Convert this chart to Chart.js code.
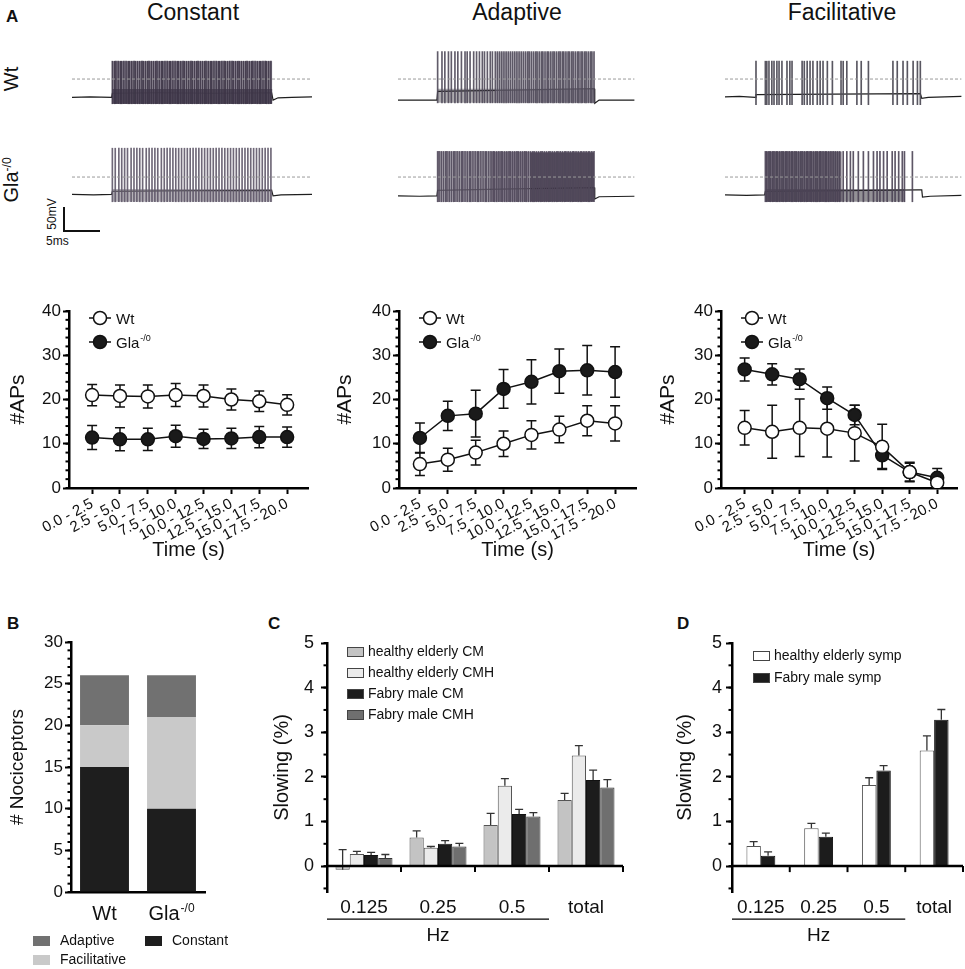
<!DOCTYPE html>
<html>
<head>
<meta charset="utf-8">
<script src="https://cdn.jsdelivr.net/npm/chart.js@4.4.1/dist/chart.umd.min.js"></script>
<style>
  body { margin: 0; width: 965px; height: 969px; position: relative; background: #fff; overflow: hidden;
         font-family: "Liberation Sans", Arial, sans-serif; color: #111; }
  canvas { position: absolute; }
  .t { position: absolute; line-height: 1; white-space: nowrap; }
  .ctr { transform: translateX(-50%); }
  .rot { transform: translate(-50%, -50%) rotate(-90deg); }
  .pl { font-weight: bold; font-size: 17px; }
  sup { font-size: 60%; }
  .bar { position: absolute; background: #111; }
</style>
</head>
<body>

<div class="t pl" style="left:6px;top:8px;">A</div>
<div class="t ctr" style="left:193px;top:1px;font-size:23px;">Constant</div>
<div class="t ctr" style="left:517px;top:1px;font-size:23px;">Adaptive</div>
<div class="t ctr" style="left:842px;top:1px;font-size:23px;">Facilitative</div>
<div class="t rot" style="left:11px;top:79px;font-size:20px;">Wt</div>
<div class="t rot" style="left:11px;top:180px;font-size:20px;">Gla<sup>-/0</sup></div>

<canvas id="tr1" width="240" height="65" style="left:72px;top:47px;"></canvas>
<canvas id="tr2" width="240" height="65" style="left:72px;top:145px;"></canvas>
<canvas id="tr3" width="240" height="65" style="left:398px;top:47px;"></canvas>
<canvas id="tr4" width="240" height="65" style="left:398px;top:145px;"></canvas>
<canvas id="tr5" width="240" height="65" style="left:725px;top:47px;"></canvas>
<canvas id="tr6" width="240" height="65" style="left:725px;top:145px;"></canvas>

<div class="bar" style="left:63px;top:207px;width:2px;height:25px;"></div>
<div class="bar" style="left:63px;top:230px;width:37px;height:2px;"></div>
<div class="t rot" style="left:52px;top:214px;font-size:12px;">50mV</div>
<div class="t" style="left:46px;top:235px;font-size:12px;">5ms</div>

<canvas id="aps1" width="320" height="272" style="left:0px;top:290px;"></canvas>
<canvas id="aps2" width="320" height="272" style="left:330px;top:290px;"></canvas>
<canvas id="aps3" width="315" height="272" style="left:650px;top:290px;"></canvas>

<div class="t pl" style="left:7px;top:615px;">B</div>
<div class="t pl" style="left:268px;top:615px;">C</div>
<div class="t pl" style="left:677px;top:615px;">D</div>

<canvas id="chartB" width="240" height="369" style="left:0px;top:600px;"></canvas>
<canvas id="chartC" width="380" height="369" style="left:250px;top:600px;"></canvas>
<canvas id="chartD" width="325" height="369" style="left:640px;top:600px;"></canvas>

<script>
// ---------- data: panel A traces (time in ms, voltage in mV relative to dashed line) ----------
const constWtSpikes = [5.6, 5.9, 6.1, 6.4, 6.7, 6.9, 7.2, 7.5, 7.8, 8.0, 8.3, 8.6, 8.8, 9.1, 9.4, 9.7, 9.9, 10.2, 10.5, 10.7,
  11.0, 11.3, 11.6, 11.8, 12.1, 12.4, 12.6, 12.9, 13.2, 13.5, 13.7, 14.0, 14.3, 14.6, 14.8, 15.1, 15.4, 15.6, 15.9, 16.2,
  16.5, 16.7, 17.0, 17.3, 17.5, 17.8, 18.1, 18.4, 18.6, 18.9, 19.2, 19.4, 19.7, 20.0, 20.3, 20.5, 20.8, 21.1, 21.3, 21.6,
  21.9, 22.2, 22.4, 22.7, 23.0, 23.2, 23.5, 23.8, 24.1, 24.3, 24.6, 24.9, 25.1, 25.4, 25.7, 26.0, 26.2, 26.5, 26.8, 27.0, 27.3, 27.6];
const constWtBaseX = [0, 2.5, 5.5, 5.6, 12, 20, 27.7, 27.9, 28.6, 30.5, 33.3];
const constWtBaseY = [-40, -39, -40, -31, -30, -31, -30, -46, -41, -40, -39];
const constWtRange = [-54, 39];

const constGlaSpikes = [5.6, 6.0, 6.5, 6.9, 7.3, 7.7, 8.2, 8.6, 9.0, 9.4, 9.8, 10.3, 10.7, 11.1, 11.5, 11.9, 12.4, 12.8,
  13.2, 13.6, 14.0, 14.4, 14.8, 15.2, 15.6, 16.0, 16.4, 16.8, 17.2, 17.6, 18.0, 18.4, 18.8, 19.2, 19.6, 20.0, 20.4, 20.8,
  21.2, 21.6, 22.0, 22.4, 22.8, 23.2, 23.6, 24.0, 24.4, 24.8, 25.2, 25.6, 26.0, 26.4, 26.8, 27.2, 27.6];
const constGlaBaseX = [0, 3, 5.5, 5.6, 16, 27.7, 27.9, 29, 33.3];
const constGlaBaseY = [-38, -39, -38, -31, -30, -29, -41, -39, -38];
const constGlaRange = [-54, 63];

const adaptWtSpikes = [5.5, 6.1, 6.5, 7.0, 7.4, 7.9, 8.3, 8.8, 9.3, 9.6, 10.0, 10.5, 10.9, 11.3, 11.7, 12.0, 12.4, 12.8,
  13.1, 13.5, 13.8, 14.1, 14.4, 14.7, 15.0, 15.3, 15.6, 15.9, 16.2, 16.5, 16.8, 17.1, 17.4, 17.7, 18.0, 18.2, 18.5, 18.8,
  19.1, 19.3, 19.6, 19.9, 20.1, 20.4, 20.7, 20.9, 21.2, 21.5, 21.7, 22.0, 22.3, 22.5, 22.8, 23.0, 23.3, 23.6, 23.8, 24.1,
  24.3, 24.6, 24.9, 25.1, 25.4, 25.6, 25.9, 26.1, 26.4, 26.7, 26.9, 27.2];
const adaptWtBaseX = [0, 3, 5.4, 5.5, 16, 27.2, 27.3, 27.9, 32.8];
const adaptWtBaseY = [-46, -46, -46, -27, -24, -21, -53, -46, -46];
const adaptWtRange = [-52, 60];

const adaptGlaSpikes = [5.5, 5.7, 6.0, 6.3, 6.6, 6.8, 7.1, 7.4, 7.7, 7.9, 8.2, 8.5, 8.8, 9.0, 9.3, 9.6, 9.9, 10.1, 10.4,
  10.7, 11.0, 11.2, 11.5, 11.8, 12.1, 12.3, 12.6, 12.9, 13.2, 13.4, 13.7, 14.0, 14.3, 14.5, 14.8, 15.1, 15.4, 15.6, 15.9,
  16.2, 16.5, 16.7, 17.0, 17.3, 17.6, 17.8, 18.1, 18.4, 18.7, 18.9, 19.2, 19.5, 19.8, 20.0, 20.3, 20.6, 20.9, 21.1, 21.4,
  21.7, 22.0, 22.2, 22.5, 22.8, 23.1, 23.3, 23.6, 23.9, 24.2, 24.4, 24.7, 25.0, 25.3, 25.5, 25.8, 26.1, 26.4, 26.6, 26.9, 27.2];
const adaptGlaBaseX = [0, 3, 5.4, 5.5, 16, 27.2, 27.3, 27.9, 32.8];
const adaptGlaBaseY = [-41, -42, -41, -29, -26, -23, -48, -43, -42];
const adaptGlaRange = [-54, 56];

const facilWtSpikes = [4.3, 5.6, 5.8, 6.1, 6.5, 6.8, 7.2, 7.5, 7.9, 8.6, 9.0, 9.3, 10.7, 11.0, 11.4, 11.8, 12.2, 12.8,
  13.2, 13.6, 14.2, 14.9, 16.1, 16.4, 16.9, 18.3, 18.9, 19.9, 23.3, 23.9, 24.7, 25.3, 26.1, 26.7, 27.1];
const facilWtBaseX = [0, 2, 4.2, 4.3, 15, 27.1, 27.3, 28.2, 30.5, 32.8];
const facilWtBaseY = [-39, -38, -40, -34, -33, -32, -42, -40, -39, -38];
const facilWtRange = [-56, 39];

const facilGlaSpikes = [5.6, 5.8, 6.1, 6.3, 6.6, 6.8, 7.1, 7.3, 7.6, 7.9, 8.1, 8.4, 8.6, 8.9, 9.2, 9.4, 9.7, 9.9, 10.2,
  10.5, 10.7, 11.0, 11.3, 11.5, 11.8, 12.0, 12.3, 12.6, 12.8, 13.1, 13.3, 13.6, 13.9, 14.1, 14.4, 14.7, 15.0, 15.3, 15.6,
  15.9, 16.4, 16.9, 17.4, 17.8, 18.5, 19.2, 19.9, 20.6, 21.1, 21.5, 22.0, 22.5, 23.2, 23.6, 24.1, 24.6, 24.9, 26.0];
const facilGlaBaseX = [0, 3, 5.5, 5.6, 16, 26.8, 27.3, 27.4, 28.5, 32.8];
const facilGlaBaseY = [-39, -40, -39, -31, -30, -28, -28, -44, -42, -40];
const facilGlaRange = [-54, 56];

// ---------- data: panel A #APs ----------
const timeBins = ["0.0 - 2.5", "2.5 - 5.0", "5.0 - 7.5", "7.5 - 10.0", "10.0 - 12.5", "12.5 - 15.0", "15.0 - 17.5", "17.5 - 20.0"];
const constWt = [21.0, 20.8, 20.7, 21.0, 20.8, 20.0, 19.6, 18.8];
const constWtErr = [2.4, 2.5, 2.6, 2.6, 2.5, 2.4, 2.3, 2.3];
const constGla = [11.4, 11.0, 11.0, 11.7, 11.1, 11.2, 11.5, 11.5];
const constGlaErr = [2.7, 2.6, 2.5, 2.5, 2.2, 2.3, 2.4, 2.3];
const adaptWt = [5.4, 6.4, 8.0, 10.0, 12.0, 13.2, 15.2, 14.6];
const adaptWtErr = [2.6, 2.6, 2.8, 2.9, 3.2, 3.0, 3.4, 4.0];
const adaptGla = [11.3, 16.3, 16.8, 22.4, 24.0, 26.4, 26.6, 26.2];
const adaptGlaErr = [3.4, 3.3, 5.3, 4.4, 5.0, 5.0, 5.6, 5.7];
const facilWt = [13.6, 12.7, 13.6, 13.4, 12.4, 9.3, 3.6, 1.2];
const facilWtErr = [3.9, 6.0, 6.5, 6.4, 6.3, 5.1, 2.0, 1.0];
const facilGla = [26.8, 25.7, 24.6, 20.3, 16.5, 7.4, 3.6, 2.3];
const facilGlaErr = [2.6, 2.4, 2.3, 2.5, 2.2, 3.0, 2.2, 2.1];

// ---------- data: panel B ----------
const bGroups = ["Wt", "Gla"];
const bGroupSup = ["", "-/0"];
const bConstant = [15, 10];
const bFacilitative = [5, 11];
const bAdaptive = [6, 5];
const bLegendOrder = ["Adaptive", "Constant", "Facilitative"];

// ---------- data: panels C and D ----------
const hzCats = ["0.125", "0.25", "0.5", "total"];
const cHeCm = [-0.08, 0.64, 0.92, 1.48];
const cHeCmErr = [0.45, 0.15, 0.26, 0.15];
const cHeCmh = [0.27, 0.41, 1.80, 2.48];
const cHeCmhErr = [0.06, 0.03, 0.16, 0.22];
const cFmCm = [0.25, 0.50, 1.17, 1.93];
const cFmCmErr = [0.06, 0.07, 0.10, 0.22];
const cFmCmh = [0.18, 0.44, 1.11, 1.76];
const cFmCmhErr = [0.08, 0.07, 0.09, 0.18];
const dHe = [0.45, 0.85, 1.82, 2.59];
const dHeErr = [0.10, 0.11, 0.16, 0.33];
const dFm = [0.23, 0.66, 2.14, 3.28];
const dFmErr = [0.09, 0.08, 0.11, 0.23];

// ---------- helpers ----------
const FONT = '"Liberation Sans", Arial, sans-serif';
Chart.defaults.font.family = FONT;
Chart.defaults.color = '#111';

function supText(ctx, base, sup, x, y, size, align) {
  ctx.save();
  ctx.textBaseline = 'alphabetic';
  ctx.textAlign = 'left';
  ctx.font = size + 'px ' + FONT;
  const w1 = ctx.measureText(base).width;
  const small = Math.round(size * 0.6);
  ctx.font = small + 'px ' + FONT;
  const w2 = sup ? ctx.measureText(sup).width + 1 : 0;
  const x0 = align === 'center' ? x - (w1 + w2) / 2 : x;
  ctx.font = size + 'px ' + FONT;
  ctx.fillText(base, x0, y);
  if (sup) {
    ctx.font = small + 'px ' + FONT;
    ctx.fillText(sup, x0 + w1 + 1, y - size * 0.42);
  }
  ctx.restore();
}

// small ticks between the labelled ones
const minorTicks = {
  id: 'minorTicks',
  afterDraw(chart, args, o) {
    if (!o.step) return;
    const s = chart.scales.y, ctx = chart.ctx;
    ctx.save();
    ctx.strokeStyle = '#000';
    ctx.lineWidth = 2;
    for (let v = o.from; v <= s.max + 1e-9; v += o.step) {
      const py = s.getPixelForValue(v);
      ctx.beginPath();
      ctx.moveTo(s.right, py);
      ctx.lineTo(s.right - o.len, py);
      ctx.stroke();
    }
    ctx.restore();
  }
};

function drawErrors(chart, o) {
  const ctx = chart.ctx, ys = chart.scales.y;
  chart.data.datasets.forEach((ds, di) => {
    if (!ds.errors) return;
    const meta = chart.getDatasetMeta(di);
    ctx.save();
    ctx.strokeStyle = o.color;
    ctx.lineWidth = o.width;
    meta.data.forEach((el, i) => {
      const m = ds.means[i], e = ds.errors[i];
      const top = ys.getPixelForValue(m + e);
      const bot = o.upOnly ? ys.getPixelForValue(m) : ys.getPixelForValue(m - e);
      ctx.beginPath();
      ctx.moveTo(el.x, bot); ctx.lineTo(el.x, top);
      ctx.moveTo(el.x - o.cap, top); ctx.lineTo(el.x + o.cap, top);
      if (!o.upOnly) { ctx.moveTo(el.x - o.cap, bot); ctx.lineTo(el.x + o.cap, bot); }
      ctx.stroke();
    });
    ctx.restore();
  });
}
const errorBars = {
  id: 'errorBars',
  beforeDatasetsDraw(chart, a, o) { if (o.under) drawErrors(chart, o); },
  afterDatasetsDraw(chart, a, o) { if (!o.under) drawErrors(chart, o); }
};

const apsLegend = {
  id: 'apsLegend',
  afterDraw(chart) {
    const ctx = chart.ctx, a = chart.chartArea;
    const cx = a.left + 31;
    chart.data.datasets.forEach((ds, i) => {
      const y = a.top + 7 + i * 24;
      ctx.save();
      ctx.strokeStyle = '#111';
      ctx.lineWidth = 1.5;
      ctx.beginPath(); ctx.moveTo(cx - 11, y); ctx.lineTo(cx + 11, y); ctx.stroke();
      ctx.beginPath(); ctx.arc(cx, y, 6.5, 0, Math.PI * 2);
      ctx.fillStyle = ds.pointBackgroundColor; ctx.fill(); ctx.stroke();
      ctx.fillStyle = '#111';
      supText(ctx, ds.label, ds.sup, cx + 16, y + 5.5, 15, 'left');
      ctx.restore();
    });
  }
};

function traceChart(id, t) {
  const ds = [];
  (t.bands || []).forEach(b => {
    ds.push({ data: [{ x: b[0], y: b[2] }, { x: b[1], y: b[2] }], borderWidth: 0, pointRadius: 0, fill: false, order: 4 });
    ds.push({ data: [{ x: b[0], y: b[3] }, { x: b[1], y: b[3] }], borderWidth: 0, pointRadius: 0, fill: '-1', backgroundColor: b[4], order: 4 });
  });
  ds.push({ type: 'bar', data: t.spikes.map(s => ({ x: s, y: t.range })), backgroundColor: t.color, barThickness: 1, grouped: false, order: 3 });
  ds.push({ data: t.bx.map((x, i) => ({ x: x, y: t.by[i] })), borderColor: '#1e1e1e', borderWidth: 1.2, pointRadius: 0, order: 5 });
  ds.push({ data: [{ x: 0, y: 0 }, { x: t.bx[t.bx.length - 1], y: 0 }], borderColor: '#9a9a9a', borderWidth: 1, borderDash: [3, 2], pointRadius: 0, order: 1 });
  new Chart(document.getElementById(id), {
    type: 'line',
    data: { datasets: ds },
    options: {
      responsive: false, animation: false, events: [],
      layout: { padding: 0 },
      plugins: { legend: { display: false }, tooltip: { enabled: false } },
      scales: {
        x: { type: 'linear', min: 0, max: 33.3, display: false, offset: false },
        y: { min: -72, max: 70, display: false }
      }
    }
  });
}

function apsChart(id, wt, wtErr, gla, glaErr, lay) {
  new Chart(document.getElementById(id), {
    type: 'line',
    data: {
      datasets: [
        { label: 'Wt', sup: '', data: wt.map((v, i) => ({ x: i, y: v })), means: wt, errors: wtErr,
          borderColor: '#111', borderWidth: 1.5, pointRadius: 6.5, pointBackgroundColor: '#fff',
          pointBorderColor: '#111', pointBorderWidth: 1.5 },
        { label: 'Gla', sup: '-/0', data: gla.map((v, i) => ({ x: i, y: v })), means: gla, errors: glaErr,
          borderColor: '#111', borderWidth: 1.5, pointRadius: 6.5, pointBackgroundColor: '#1a1a1a',
          pointBorderColor: '#111', pointBorderWidth: 1.5 }
      ]
    },
    options: {
      responsive: false, animation: false, events: [],
      layout: { padding: { left: lay.padLeft, top: 21, right: lay.padRight, bottom: 0 } },
      plugins: {
        legend: { display: false }, tooltip: { enabled: false },
        minorTicks: { from: 0, step: 2, len: 3.5 },
        errorBars: { under: true, upOnly: false, color: '#111', width: 1.5, cap: 5 }
      },
      scales: {
        x: {
          type: 'linear', min: lay.xmin, max: lay.xmax, offset: false,
          afterBuildTicks: s => { s.ticks = timeBins.map((_, i) => ({ value: i })); },
          afterFit: s => { s.height = 74; },
          ticks: { callback: v => timeBins[v], minRotation: 28, maxRotation: 28, autoSkip: false,
                   font: { size: 15 }, color: '#111', padding: 1 },
          grid: { drawOnChartArea: false, tickLength: 6, tickWidth: 2, color: '#000' },
          border: { width: 2.5, color: '#000' },
          title: { display: true, text: 'Time (s)', font: { size: 20 }, color: '#111', padding: { top: 0, bottom: 0 } }
        },
        y: {
          min: 0, max: 40,
          afterBuildTicks: s => { s.ticks = [0, 10, 20, 30, 40].map(v => ({ value: v })); },
          afterFit: s => { s.width = lay.yWidth; },
          ticks: { font: { size: 17 }, color: '#111', padding: 2 },
          grid: { drawOnChartArea: false, tickLength: 6, tickWidth: 2, color: '#000' },
          border: { width: 2.5, color: '#000' },
          title: { display: true, text: '#APs', font: { size: 21 }, color: '#111', padding: { top: 0, bottom: 0 } }
        }
      }
    },
    plugins: [minorTicks, errorBars, apsLegend]
  });
}

// ---------- panel A traces ----------
traceChart('tr1', { spikes: constWtSpikes, bx: constWtBaseX, by: constWtBaseY, range: constWtRange, color: 'rgba(60,52,70,0.9)',
  bands: [[5.6, 27.8, -54, 39, 'rgba(110,100,120,0.55)'], [5.6, 27.8, -54, -22, 'rgba(35,28,42,0.8)']] });
traceChart('tr2', { spikes: constGlaSpikes, bx: constGlaBaseX, by: constGlaBaseY, range: constGlaRange, color: 'rgba(95,88,105,0.9)',
  bands: [[5.6, 27.8, -54, -26, 'rgba(90,84,98,0.45)']] });
traceChart('tr3', { spikes: adaptWtSpikes, bx: adaptWtBaseX, by: adaptWtBaseY, range: adaptWtRange, color: 'rgba(80,74,90,0.9)',
  bands: [[13.5, 27.2, -50, 58, 'rgba(165,160,172,0.45)'], [5.5, 27.2, -52, -21, 'rgba(50,45,55,0.4)']] });
traceChart('tr4', { spikes: adaptGlaSpikes, bx: adaptGlaBaseX, by: adaptGlaBaseY, range: adaptGlaRange, color: 'rgba(80,72,90,0.9)',
  bands: [[5.5, 12.8, -54, 56, 'rgba(160,155,168,0.55)'], [12.8, 18.3, -54, 55, 'rgba(105,96,115,0.7)'],
          [18.3, 27.2, -54, 54, 'rgba(55,45,65,0.85)']] });
traceChart('tr5', { spikes: facilWtSpikes, bx: facilWtBaseX, by: facilWtBaseY, range: facilWtRange, color: 'rgba(80,78,88,0.95)' });
traceChart('tr6', { spikes: facilGlaSpikes, bx: facilGlaBaseX, by: facilGlaBaseY, range: facilGlaRange, color: 'rgba(75,68,85,0.9)',
  bands: [[5.6, 16.2, -54, 56, 'rgba(70,60,80,0.7)'], [5.6, 25.0, -54, -26, 'rgba(40,35,45,0.5)']] });

// ---------- panel A #APs ----------
apsChart('aps1', constWt, constWtErr, constGla, constGlaErr, { padLeft: 5.4, yWidth: 63.6, padRight: 12, xmin: -0.83, xmax: 7.75 });
apsChart('aps2', adaptWt, adaptWtErr, adaptGla, adaptGlaErr, { padLeft: 2.4, yWidth: 66.6, padRight: 14, xmin: -0.75, xmax: 7.75 });
apsChart('aps3', facilWt, facilWtErr, facilGla, facilGlaErr, { padLeft: 5.4, yWidth: 65.6, padRight: 5, xmin: -0.86, xmax: 7.72 });

// ---------- panel B ----------
const bExtras = {
  id: 'bExtras',
  afterDraw(chart) {
    const { ctx, scales: { x }, chartArea: a } = chart;
    ctx.save();
    ctx.fillStyle = '#111';
    bGroups.forEach((g, i) => supText(ctx, g, bGroupSup[i], x.getPixelForValue(i), a.bottom + 28, 20, 'center'));
    bLegendOrder.forEach((name, k) => {
      const ds = chart.data.datasets.find(d => d.label === name);
      const bx = 33 + (k % 2) * 112;
      const by = 341 + Math.floor(k / 2) * 19;
      ctx.fillStyle = ds.backgroundColor;
      ctx.fillRect(bx, by - 5, 17, 10);
      ctx.fillStyle = '#111';
      ctx.font = '14px ' + FONT;
      ctx.textAlign = 'left';
      ctx.textBaseline = 'middle';
      ctx.fillText(name, bx + 27, by);
    });
    ctx.restore();
  }
};
new Chart(document.getElementById('chartB'), {
  type: 'bar',
  data: {
    labels: bGroups,
    datasets: [
      { label: 'Constant', data: bConstant, backgroundColor: '#1e1e1e' },
      { label: 'Facilitative', data: bFacilitative, backgroundColor: '#c9c9c9' },
      { label: 'Adaptive', data: bAdaptive, backgroundColor: '#717171' }
    ]
  },
  options: {
    responsive: false, animation: false, events: [],
    layout: { padding: { left: 6.6, top: 42, right: 35, bottom: 0 } },
    datasets: { bar: { barPercentage: 1, categoryPercentage: 0.73 } },
    plugins: { legend: { display: false }, tooltip: { enabled: false }, minorTicks: { from: 0, step: 1, len: 3.5 } },
    scales: {
      x: { stacked: true, afterFit: s => { s.height = 77; }, ticks: { display: false },
           grid: { display: false }, border: { width: 2.5, color: '#000' } },
      y: { stacked: true, min: 0, max: 30,
           afterBuildTicks: s => { s.ticks = [0, 5, 10, 15, 20, 25, 30].map(v => ({ value: v })); },
           afterFit: s => { s.width = 64.4; },
           ticks: { font: { size: 17 }, color: '#111', padding: 2 },
           grid: { drawOnChartArea: false, tickLength: 6, tickWidth: 2, color: '#000' },
           border: { width: 2.5, color: '#000' },
           title: { display: true, text: '# Nociceptors', font: { size: 19 }, color: '#111', padding: { top: 0, bottom: 0 } } }
    }
  },
  plugins: [minorTicks, bExtras]
});

// ---------- panels C and D ----------
const hzAxis = {
  id: 'hzAxis',
  afterDraw(chart, args, o) {
    const { ctx, chartArea: a, scales: { x, y } } = chart;
    const y0 = y.getPixelForValue(0);
    const n = chart.data.labels.length;
    const edges = [];
    for (let i = 1; i <= n; i++) edges.push(i < n ? (x.getPixelForValue(i - 1) + x.getPixelForValue(i)) / 2 : a.right);
    ctx.save();
    ctx.strokeStyle = '#000';
    ctx.lineWidth = 2.5;
    ctx.beginPath(); ctx.moveTo(a.left, y0); ctx.lineTo(a.right, y0); ctx.stroke();
    ctx.lineWidth = 2;
    edges.forEach(e => { ctx.beginPath(); ctx.moveTo(e, y0); ctx.lineTo(e, y0 + 6); ctx.stroke(); });
    const end = edges[o.split - 1];
    const ly = y0 + 53;
    ctx.lineWidth = 1.2;
    ctx.beginPath(); ctx.moveTo(a.left, ly); ctx.lineTo(end, ly); ctx.stroke();
    ctx.fillStyle = '#111';
    ctx.font = '19px ' + FONT;
    ctx.textAlign = 'center';
    ctx.textBaseline = 'middle';
    ctx.fillText(o.unit, (a.left + end) / 2, ly + 17);
    // legend
    ctx.font = '14px ' + FONT;
    ctx.textAlign = 'left';
    chart.data.datasets.forEach((ds, i) => {
      const ry = a.top + o.legTop + i * o.legStep;
      const bx = a.left + o.legLeft;
      ctx.fillStyle = ds.backgroundColor;
      ctx.fillRect(bx, ry - 4.5, 16, 9);
      ctx.strokeStyle = '#444';
      ctx.lineWidth = 1;
      ctx.strokeRect(bx + 0.5, ry - 4.5, 16, 9);
      ctx.fillStyle = '#111';
      ctx.fillText(ds.label, bx + 21, ry);
    });
    ctx.restore();
  }
};

function slowingChart(id, datasets, lay) {
  new Chart(document.getElementById(id), {
    type: 'bar',
    data: { labels: hzCats, datasets: datasets },
    options: {
      responsive: false, animation: false, events: [],
      layout: { padding: { left: lay.padLeft, top: 43, right: lay.padRight, bottom: 0 } },
      datasets: { bar: { barPercentage: 1, categoryPercentage: lay.catPct, borderWidth: 1 } },
      plugins: {
        legend: { display: false }, tooltip: { enabled: false },
        minorTicks: { from: -0.5, step: 0.5, len: 3.5 },
        errorBars: { under: false, upOnly: true, color: '#333', width: 1.3, cap: 4 },
        hzAxis: { split: 3, unit: 'Hz', legTop: lay.legTop, legStep: lay.legStep, legLeft: lay.legLeft }
      },
      scales: {
        x: { afterFit: s => { s.height = 77; }, ticks: { font: { size: 19 }, color: '#111', padding: 4 },
             grid: { display: false, drawTicks: false }, border: { display: false } },
        y: { min: -0.58, max: 5,
             afterBuildTicks: s => { s.ticks = [0, 1, 2, 3, 4, 5].map(v => ({ value: v })); },
             afterFit: s => { s.width = lay.yWidth; },
             ticks: { font: { size: 18 }, color: '#111', padding: lay.tickPad },
             grid: { drawOnChartArea: false, tickLength: 6, tickWidth: 2, color: '#000' },
             border: { width: 2.5, color: '#000' },
             title: { display: true, text: 'Slowing (%)', font: { size: 20 }, color: '#111', padding: { top: 0, bottom: 0 } } }
      }
    },
    plugins: [minorTicks, errorBars, hzAxis]
  });
}

slowingChart('chartC', [
  { label: 'healthy elderly CM', data: cHeCm, means: cHeCm, errors: cHeCmErr, backgroundColor: '#c3c3c3', borderColor: '#555' },
  { label: 'healthy elderly CMH', data: cHeCmh, means: cHeCmh, errors: cHeCmhErr, backgroundColor: '#ebebeb', borderColor: '#555' },
  { label: 'Fabry male CM', data: cFmCm, means: cFmCm, errors: cFmCmErr, backgroundColor: '#1c1c1c', borderColor: '#111' },
  { label: 'Fabry male CMH', data: cFmCmh, means: cFmCmh, errors: cFmCmhErr, backgroundColor: '#6f6f6f', borderColor: '#333' }
], { padLeft: 20, yWidth: 57, padRight: 7, catPct: 0.77, tickPad: 7, legTop: 9, legStep: 21, legLeft: 20 });

slowingChart('chartD', [
  { label: 'healthy elderly symp', data: dHe, means: dHe, errors: dHeErr, backgroundColor: '#ffffff', borderColor: '#555' },
  { label: 'Fabry male symp', data: dFm, means: dFm, errors: dFmErr, backgroundColor: '#1c1c1c', borderColor: '#111' }
], { padLeft: 33, yWidth: 59, padRight: 2, catPct: 0.5, tickPad: 4, legTop: 13, legStep: 22, legLeft: 21 });
</script>
</body>
</html>
